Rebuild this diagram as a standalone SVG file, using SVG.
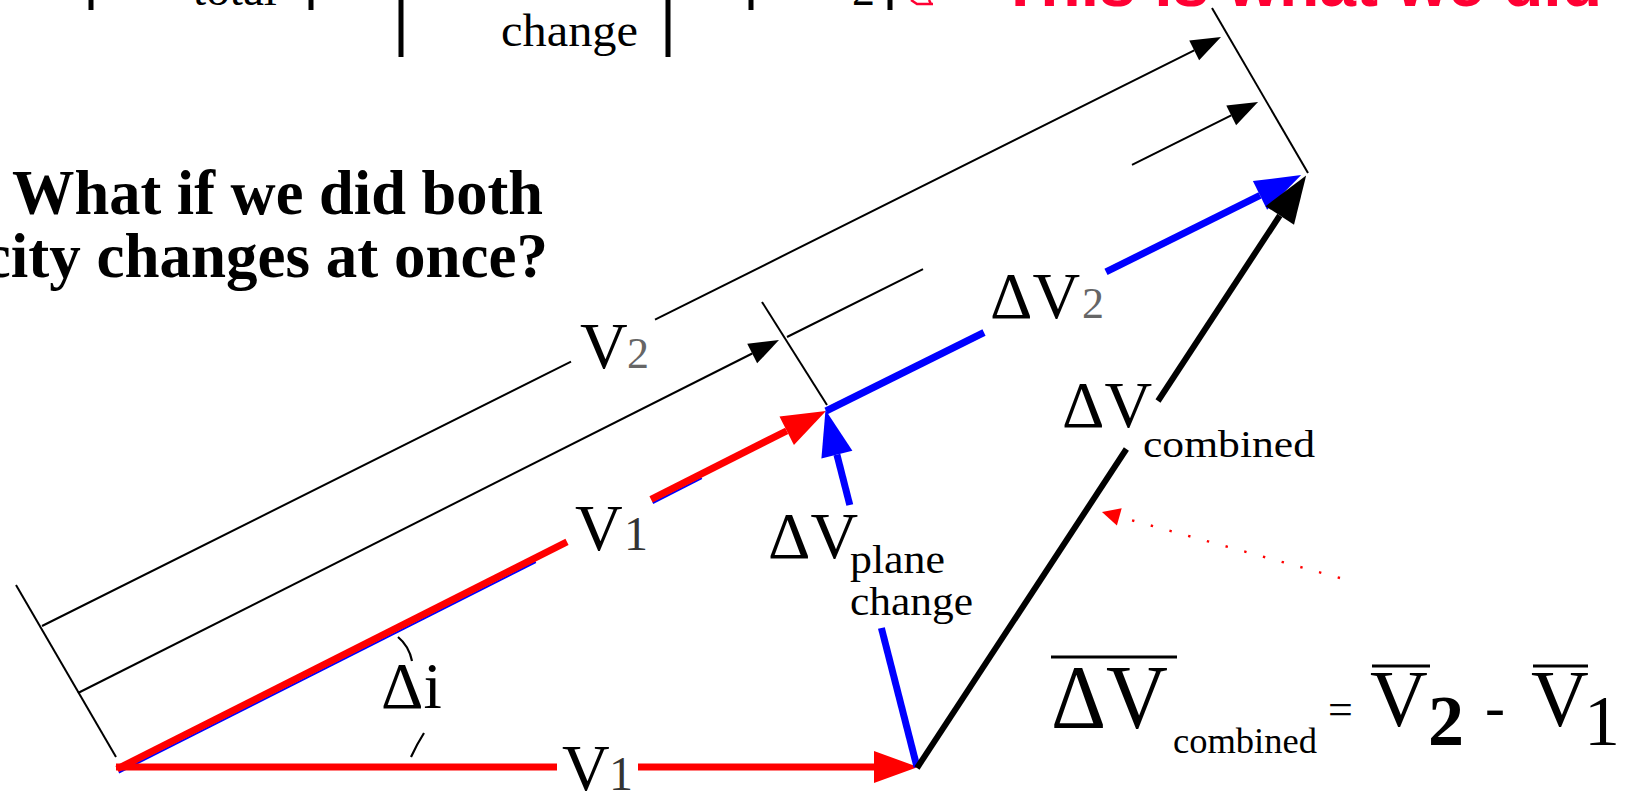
<svg xmlns="http://www.w3.org/2000/svg" width="1638" height="793" viewBox="0 0 1638 793">
<style>
.red{stroke:#ff0000;stroke-width:7;fill:none}
.blue{stroke:#0000ff;stroke-width:7;fill:none}
.blueThin{stroke:#0000ff;stroke-width:2;fill:none}
.blk{stroke:#000;stroke-width:6;fill:none}
.thin{stroke:#000;stroke-width:2;fill:none}
.bar{stroke:#000;stroke-width:5}
.arc{stroke:#000;stroke-width:2.2;fill:none}
.dot{stroke:#ff0000;stroke-width:2.4;stroke-dasharray:2.4 17;fill:none}
.ser{font-family:"Liberation Serif","Times New Roman",serif;fill:#000}
.lbl{font-size:66px}
.sub2{font-size:44px;fill:#666}
.sub1{font-size:48px;fill:#333}
.small{font-size:40px}
.head{font-family:"Liberation Serif","Times New Roman",serif;font-weight:bold;font-size:63px;fill:#000}
.redtxt{font-family:"Liberation Sans",Arial,sans-serif;font-weight:bold;font-size:66px;fill:#ff0033}
.ovl{stroke:#000;stroke-width:3}
.fdig{font-size:72px}
</style>
<defs>
<marker id="mRed" markerUnits="userSpaceOnUse" orient="auto" refX="0" refY="0" markerWidth="60" markerHeight="40" viewBox="0 -20 60 40" overflow="visible"><path d="M0,-16 L44,0 L0,16 z" fill="#ff0000"/></marker>
<marker id="mBlue" markerUnits="userSpaceOnUse" orient="auto" refX="0" refY="0" markerWidth="60" markerHeight="40" viewBox="0 -20 60 40" overflow="visible"><path d="M0,-16 L46,0 L0,16 z" fill="#0000ff"/></marker>
<marker id="mBlk" markerUnits="userSpaceOnUse" orient="auto" refX="0" refY="0" markerWidth="60" markerHeight="40" viewBox="0 -20 60 40" overflow="visible"><path d="M0,-17 L48,0 L0,17 z" fill="#000"/></marker>
<marker id="mThin" markerUnits="userSpaceOnUse" orient="auto" refX="0" refY="0" markerWidth="40" markerHeight="30" viewBox="0 -15 40 30" overflow="visible"><path d="M0,-11 L30,0 L0,11 z" fill="#000"/></marker>
<marker id="mDot" markerUnits="userSpaceOnUse" orient="auto" refX="0" refY="0" markerWidth="24" markerHeight="24" viewBox="0 -12 24 24" overflow="visible"><path d="M0,-9 L18,0 L0,9 z" fill="#ff0000"/></marker>
</defs>
<rect width="1638" height="793" fill="#fff"/>

<g id="top-header">
<line class="bar" x1="91" y1="0" x2="91" y2="10"/>
<line class="bar" x1="311" y1="0" x2="311" y2="10"/>
<line class="bar" x1="401" y1="0" x2="401" y2="57"/>
<line class="bar" x1="668" y1="0" x2="668" y2="57"/>
<line class="bar" x1="751" y1="0" x2="751" y2="10"/>
<line class="bar" x1="890" y1="0" x2="890" y2="10"/>
<text class="ser" x="193" y="5" font-size="46" textLength="84" lengthAdjust="spacingAndGlyphs">total</text>
<text class="ser" x="501" y="46" font-size="46" textLength="137" lengthAdjust="spacingAndGlyphs">change</text>
<text class="ser" x="852" y="5" font-size="46">2</text>
<path d="M911,0 L917,4 L933,4 M929,0 L931,4" stroke="#ff0033" stroke-width="2.5" fill="none"/>
<text class="redtxt" x="1000" y="6" textLength="602" lengthAdjust="spacingAndGlyphs">This is what we did</text>
</g>

<g id="question">
<text class="head" x="12" y="214" textLength="531" lengthAdjust="spacingAndGlyphs">What if we did both</text>
<text class="head" x="548" y="277" text-anchor="end">velocity changes at once?</text>
</g>

<g id="connectors">
<!-- extension lines -->
<line class="thin" x1="16" y1="585" x2="116" y2="757"/>
<line class="thin" x1="762" y1="302" x2="827" y2="405"/>
<line class="thin" x1="1212" y1="8" x2="1308" y2="173"/>
<!-- V2 dimension -->
<line class="thin" x1="42" y1="626" x2="571" y2="361.7"/>
<line class="thin" x1="655" y1="319.7" x2="1194.2" y2="50.4" marker-end="url(#mThin)"/>
<!-- V1 dimension -->
<line class="thin" x1="78" y1="693" x2="752.2" y2="353.5" marker-end="url(#mThin)"/>
<!-- dV2 dimension -->
<line class="thin" x1="787" y1="337" x2="923" y2="269.1"/>
<line class="thin" x1="1132" y1="164.9" x2="1231.2" y2="115.4" marker-end="url(#mThin)"/>
<!-- blue underline of V1 hypotenuse -->
<line class="blueThin" x1="118.8" y1="772.6" x2="535.8" y2="562"/>
<line class="blueThin" x1="652.8" y1="503" x2="701.8" y2="478.2"/>
<!-- V1 bottom -->
<line class="red" x1="116" y1="767" x2="557" y2="767"/>
<line class="red" x1="638" y1="767" x2="874" y2="767" marker-end="url(#mRed)"/>
<!-- V1 hypotenuse -->
<line class="red" x1="117" y1="769" x2="567" y2="541.8"/>
<line class="red" x1="651" y1="499.4" x2="786.7" y2="430.8" marker-end="url(#mRed)"/>
<!-- dV plane change -->
<line class="blue" x1="917" y1="767" x2="881.4" y2="628"/>
<line class="blue" x1="849.8" y1="505" x2="836.9" y2="454.6" marker-end="url(#mBlue)"/>
<!-- dV2 -->
<line class="blue" x1="826" y1="411" x2="984" y2="332.5"/>
<line class="blue" x1="1106" y1="271.9" x2="1260" y2="195.4" marker-end="url(#mBlue)"/>
<!-- dV combined -->
<line class="blk" x1="917" y1="768" x2="1126.4" y2="449"/>
<line class="blk" x1="1158" y1="401" x2="1279.8" y2="215.5" marker-end="url(#mBlk)"/>
<!-- red dotted pointer -->
<line class="dot" x1="1340" y1="578" x2="1119.3" y2="516.8" marker-end="url(#mDot)"/>
<!-- angle arc pieces -->
<path class="arc" d="M398,637 Q409,646 412,661"/>
<path class="arc" d="M424,733 Q417,744 411,757"/>
</g>

<g id="label-V2">
<text class="ser lbl" x="580" y="368">V</text>
<text class="ser sub2" x="627" y="368">2</text>
</g>
<g id="label-V1-upper">
<text class="ser lbl" x="575" y="550">V</text>
<text class="ser sub1" x="624" y="550">1</text>
</g>
<g id="label-V1-lower">
<text class="ser lbl" x="562" y="790">V</text>
<text class="ser sub1" x="609" y="790">1</text>
</g>
<g id="label-dV2">
<text class="ser lbl" x="990" y="318">ΔV</text>
<text class="ser sub2" x="1082" y="318">2</text>
</g>
<g id="label-di">
<text class="ser lbl" x="381" y="708">Δi</text>
</g>
<g id="label-dVplane">
<text class="ser lbl" x="768" y="558">ΔV</text>
<text class="ser small" x="850" y="573" textLength="95" lengthAdjust="spacingAndGlyphs">plane</text>
<text class="ser small" x="850" y="615" textLength="123" lengthAdjust="spacingAndGlyphs">change</text>
</g>
<g id="label-dVcombined">
<text class="ser lbl" x="1062" y="427">ΔV</text>
<text class="ser" x="1143" y="457" font-size="38" textLength="172" lengthAdjust="spacingAndGlyphs">combined</text>
</g>

<g id="formula">
<line class="ovl" x1="1051" y1="657" x2="1177" y2="657"/>
<text class="ser" x="1051" y="728" font-size="92" textLength="117" lengthAdjust="spacingAndGlyphs">ΔV</text>
<text class="ser" x="1173" y="753" font-size="36" textLength="144" lengthAdjust="spacingAndGlyphs">combined</text>
<text class="ser" x="1328" y="724" font-size="44">=</text>
<line class="ovl" x1="1372" y1="666" x2="1430" y2="666"/>
<text class="ser" x="1370" y="726" font-size="80">V</text>
<text class="ser fdig" x="1428" y="745" font-weight="bold">2</text>
<text class="ser" x="1485" y="727" font-size="60">-</text>
<line class="ovl" x1="1533" y1="666" x2="1588" y2="666"/>
<text class="ser" x="1531" y="726" font-size="80">V</text>
<text class="ser fdig" x="1584" y="745">1</text>
</g>
</svg>
